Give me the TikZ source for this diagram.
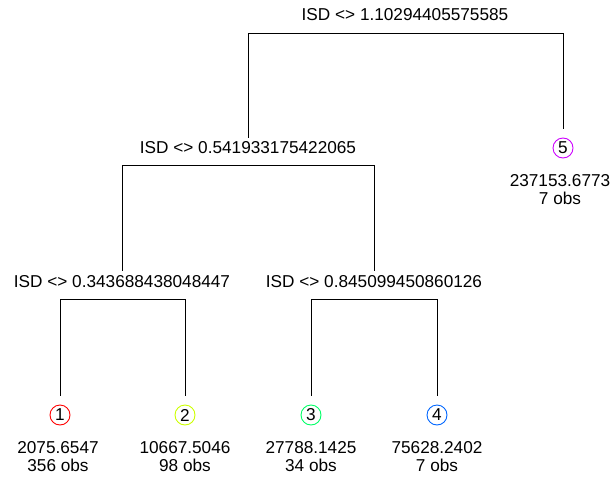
\documentclass[tikz,border=0pt]{standalone}
\usepackage{fontspec}
\setmainfont{Liberation Sans}
\usepackage{tikz}
\usetikzlibrary{calc}

\definecolor{leafA}{HTML}{FF0000}
\definecolor{leafB}{HTML}{CCFF00}
\definecolor{leafC}{HTML}{00FF66}
\definecolor{leafD}{HTML}{0066FF}
\definecolor{leafE}{HTML}{CC00FF}

\tikzset{
	split/.style={inner sep=0pt, font=\fontsize{17.2}{18}\selectfont},
	leaf/.style={circle, draw, line width=0.9pt, minimum size=20pt, inner sep=0pt, font=\fontsize{17.2}{18}\selectfont},
	val/.style={align=center, inner sep=0pt, font=\fontsize{17.2}{18}\selectfont},
	branch/.style={line width=0.8pt}
}

\begin{document}
\begin{tikzpicture}[x=1pt, y=-1pt]
		\useasboundingbox (0,0) rectangle (612,476);

		% splits
		\node[split] (s1) at (405,15) {ISD <> 1.10294405575585};
		\node[split] (s2) at (248,148) {ISD <> 0.541933175422065};
		\node[split] (s3) at (122,282) {ISD <> 0.343688438048447};
		\node[split] (s4) at (374,282) {ISD <> 0.845099450860126};

		% leaves
		\node[leaf, leafA] (l1) at (60,415) {\color{black}1};
		\node[leaf, leafB] (l2) at (185,415) {\color{black}2};
		\node[leaf, leafC] (l3) at (311,415) {\color{black}3};
		\node[leaf, leafD] (l4) at (437,415) {\color{black}4};
		\node[leaf, leafE] (l5) at (563,148) {\color{black}5};

		\node[val] (v1) at (58,457) {2075.6547\\356 obs};
		\node[val] (v2) at (185,457) {10667.5046\\98 obs};
		\node[val] (v3) at (311,457) {27788.1425\\34 obs};
		\node[val] (v4) at (437,457) {75628.2402\\7 obs};
		\node[val] (v5) at (560,190) {237153.6773\\7 obs};

		% branches
		\draw[branch] ([yshift=4pt]s2.north) |- ([yshift=-12pt]s1.south) -| ([yshift=9pt]l5.north);
		\draw[branch] ([yshift=5pt]s3.north) |- ([yshift=-11pt]s2.south) -| ([yshift=5pt]s4.north);
		\draw[branch] ([yshift=9pt]l1.north) |- ([yshift=-11pt]s3.south) -| ([yshift=9pt]l2.north);
		\draw[branch] ([yshift=9pt]l3.north) |- ([yshift=-11pt]s4.south) -| ([yshift=9pt]l4.north);
	\end{tikzpicture}
\end{document}
